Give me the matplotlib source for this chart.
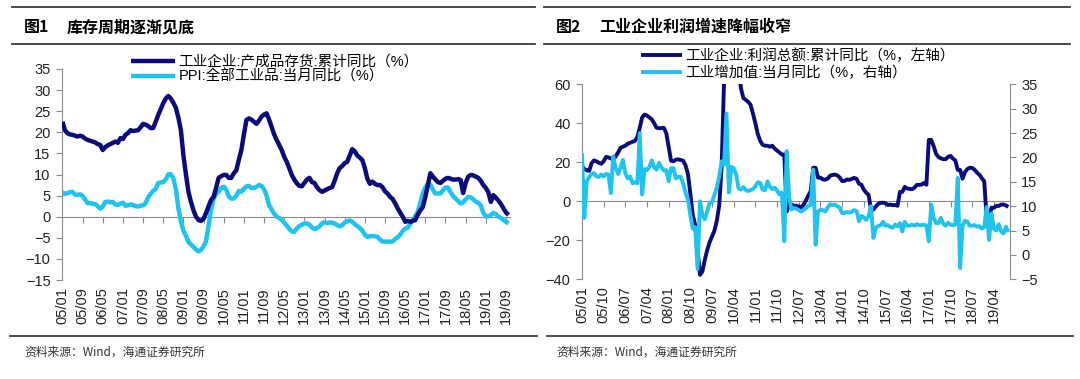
import matplotlib
matplotlib.use("Agg")
import matplotlib.pyplot as plt
import numpy as np

plt.rcParams['font.family'] = ['Liberation Sans', 'Noto Sans CJK SC']

# ---- data (monthly, 2005/01 - 2019/10) ----
# fig 1: finished goods inventory, cumulative YoY (%)
inventory = [
    22.5, 20.5, 19.8, 19.5, 19.4, 19.2, 19.0, 19.2, 19.0, 18.5, 18.2, 18.0,
    17.8, 17.6, 17.2, 17.0, 15.8, 16.5, 16.9, 17.2, 17.5, 17.8, 17.5, 18.6,
    18.4, 19.4, 19.8, 20.5, 20.3, 20.4, 20.5, 21.2, 22.0, 21.8, 21.5, 21.0,
    21.0, 22.5, 24.1, 25.5, 26.9, 28.0, 28.6, 28.0, 27.0, 25.8, 23.5, 20.5,
    14.5, 10.0, 5.9, 3.5, 1.5, 0.0, -0.8, -1.0, -0.5, 0.9, 2.5, 4.0,
    4.7, 7.0, 9.2, 9.6, 9.9, 9.9, 9.2, 9.2, 10.3, 11.0, 13.5, 15.8,
    19.5, 22.9, 23.3, 23.0, 22.5, 22.0, 22.8, 23.7, 24.2, 24.5, 23.0, 21.3,
    19.5, 18.2, 17.0, 15.8, 14.2, 13.0, 11.5, 9.9, 8.8, 7.9, 7.3, 7.2,
    8.0, 8.8, 9.2, 8.2, 8.0, 7.0, 6.3, 5.9, 6.2, 6.5, 6.8, 7.0,
    8.5, 10.3, 11.5, 12.0, 12.7, 13.0, 14.5, 16.0, 15.5, 14.5, 14.0, 13.4,
    11.5, 9.0, 7.8, 8.3, 7.8, 7.5, 7.5, 7.0, 6.0, 5.5, 4.7, 4.2,
    3.2, 2.0, 1.0, 0.0, -1.2, -1.0, -1.2, -1.0, -0.8, 0.5, 1.5, 2.3,
    4.7, 7.5, 10.3, 9.5, 8.8, 8.2, 8.0, 8.5, 9.0, 9.2, 9.0, 8.8,
    8.8, 8.9, 8.7, 5.6, 8.0, 9.5, 9.9, 9.8, 9.5, 9.2, 8.5, 7.5,
    6.8, 5.8, 3.5, 5.1, 4.5, 3.8, 3.0, 2.0, 1.0, 0.4,
]
# fig 1: PPI all industrial products, YoY (%)
ppi = [
    5.8, 5.4, 5.6, 5.8, 5.9, 5.2, 5.2, 5.3, 4.9, 4.0, 3.2, 3.2,
    3.1, 3.0, 2.5, 1.9, 2.4, 3.5, 3.6, 3.4, 3.5, 2.9, 2.8, 3.1,
    3.3, 2.6, 2.7, 2.9, 2.8, 2.5, 2.4, 2.6, 2.7, 3.2, 4.6, 5.4,
    6.1, 6.6, 8.0, 8.1, 8.2, 8.8, 10.0, 10.1, 9.1, 6.6, 2.0, -1.1,
    -3.3, -4.5, -6.0, -6.6, -7.2, -7.8, -8.2, -7.9, -7.0, -5.8, -2.1, 1.7,
    4.3, 5.4, 5.9, 6.8, 7.1, 6.4, 4.8, 4.3, 4.3, 5.0, 6.1, 5.9,
    6.6, 7.2, 7.3, 6.8, 6.8, 7.1, 7.5, 7.3, 6.5, 5.0, 2.7, 1.7,
    0.7, 0.0, -0.3, -0.7, -1.4, -2.1, -2.9, -3.5, -3.6, -2.8, -2.2, -1.9,
    -1.6, -1.6, -1.9, -2.6, -2.9, -2.7, -2.3, -1.6, -1.3, -1.5, -1.4, -1.4,
    -1.6, -2.0, -2.3, -2.0, -1.4, -1.1, -0.9, -1.2, -1.8, -2.2, -2.7, -3.3,
    -4.3, -4.8, -4.6, -4.6, -4.6, -4.8, -5.4, -5.9, -5.9, -5.9, -5.9, -5.9,
    -5.3, -4.9, -4.3, -3.4, -2.8, -2.6, -1.7, -0.8, 0.1, 1.2, 3.3, 5.5,
    6.9, 7.8, 7.6, 6.4, 5.5, 5.5, 5.5, 6.3, 6.9, 6.9, 5.8, 4.9,
    4.3, 3.7, 3.1, 3.4, 4.1, 4.7, 4.6, 4.1, 3.6, 3.3, 2.7, 0.9,
    0.1, 0.1, 0.4, 0.9, 0.6, 0.0, -0.3, -0.8, -1.2, -1.6,
]
# fig 2: total profits, cumulative YoY (%, left axis)
profit = [
    18.0, 16.5, 16.0, 15.6, 19.5, 21.0, 20.5, 19.8, 19.2, 20.5, 22.8, 22.5,
    22.0, 21.4, 23.0, 25.0, 27.4, 28.0, 28.5, 29.5, 30.0, 30.5, 31.0, 33.0,
    37.7, 43.0, 44.5, 44.0, 43.0, 42.0, 40.0, 37.7, 37.5, 37.5, 37.7, 35.0,
    28.0, 20.8, 20.5, 21.4, 21.5, 21.2, 20.8, 18.5, 14.0, 4.0, -7.0, -12.0,
    -25.0, -37.7, -36.0, -30.0, -25.0, -21.0, -18.0, -15.0, -10.0, -2.0, 18.0, 62.0,
    100.0, 90.0, 80.0, 75.0, 80.0, 70.0, 58.0, 53.0, 52.0, 51.0, 49.5, 45.0,
    40.0, 34.5, 31.0, 29.0, 28.5, 28.5, 28.0, 28.5, 27.0, 26.0, 25.0, 24.0,
    24.0, -5.2, -1.3, -1.6, -2.4, -2.2, -2.7, -3.1, -1.8, 0.5, 3.0, 5.3,
    17.2, 17.2, 12.1, 12.1, 11.2, 11.1, 11.6, 13.1, 13.5, 13.7, 13.3, 12.2,
    10.4, 10.4, 11.2, 11.0, 11.5, 12.0, 11.5, 9.0, 8.5, 6.0, 4.4, 3.3,
    -4.2, -4.2, -2.7, -1.3, -0.8, -0.7, -1.0, -1.9, -1.7, -2.0, -1.9, -2.3,
    4.8, 4.8, 7.4, 6.5, 6.4, 6.2, 6.9, 8.4, 8.4, 8.6, 9.4, 8.5,
    31.5, 31.5, 28.3, 24.4, 22.7, 22.0, 21.6, 21.6, 22.8, 23.3, 21.9, 21.0,
    16.1, 16.1, 11.6, 15.0, 16.5, 17.2, 17.1, 16.2, 14.7, 13.6, 11.8, 10.3,
    -8.5, -8.5, -3.3, -3.4, -2.3, -2.4, -1.7, -1.7, -2.1, -2.9,
]
# fig 2: industrial value added, monthly YoY (%, right axis)
iva = [
    20.9, 7.6, 15.1, 16.0, 16.6, 16.8, 16.1, 16.0, 16.5, 16.1, 16.6, 16.5,
    12.7, 20.2, 17.8, 16.6, 17.9, 19.5, 16.7, 15.7, 16.1, 14.7, 14.9, 14.7,
    25.0, 12.4, 17.6, 17.4, 18.1, 19.4, 18.0, 17.5, 18.9, 17.9, 17.3, 17.4,
    15.1, 17.8, 17.8, 15.7, 16.0, 16.0, 14.7, 12.8, 11.4, 8.2, 5.4, 5.7,
    -2.9, 11.0, 8.3, 7.3, 8.9, 10.7, 10.8, 12.3, 13.9, 16.1, 19.2, 18.5,
    29.0, 12.8, 18.1, 17.8, 16.5, 13.7, 13.4, 13.9, 13.3, 13.1, 13.3, 13.5,
    14.1, 14.9, 14.8, 13.4, 13.3, 15.1, 14.0, 13.5, 13.8, 13.2, 12.4, 12.8,
    2.8, 21.3, 11.9, 9.3, 9.6, 9.5, 9.2, 8.9, 9.2, 9.6, 10.1, 10.3,
    17.5, 2.1, 8.9, 9.3, 9.2, 8.9, 9.7, 10.4, 10.2, 10.3, 10.0, 9.7,
    8.6, 8.6, 8.8, 8.7, 8.8, 9.2, 9.0, 6.9, 8.0, 7.7, 7.2, 7.9,
    10.0, 3.5, 5.6, 5.9, 6.1, 6.8, 6.0, 6.1, 5.7, 5.6, 6.2, 5.9,
    6.5, 4.8, 6.8, 6.0, 6.0, 6.2, 6.0, 6.3, 6.1, 6.1, 6.2, 6.0,
    2.8, 10.3, 7.6, 6.5, 6.5, 7.6, 6.4, 6.0, 6.6, 6.2, 6.1, 6.2,
    15.8, -2.7, 6.0, 7.0, 6.8, 6.0, 6.0, 6.1, 5.8, 5.9, 5.4, 5.7,
    9.8, 3.1, 8.5, 5.4, 5.0, 6.3, 4.8, 4.4, 5.8, 4.7,
]

ticks1 = ['05/01', '05/09', '06/05', '07/01', '07/09', '08/05', '09/01', '09/09',
          '10/05', '11/01', '11/09', '12/05', '13/01', '13/09', '14/05', '15/01',
          '15/09', '16/05', '17/01', '17/09', '18/05', '19/01', '19/09']
ticks2 = ['05/01', '05/10', '06/07', '07/04', '08/01', '08/10', '09/07', '10/04',
          '11/01', '11/10', '12/07', '13/04', '14/01', '14/10', '15/07', '16/04',
          '17/01', '17/10', '18/07', '19/04']

DARK = '#0b0b7c'
LIGHT = '#1ec3f0'
GRAY = '#8c8c8c'
CJK = ['Noto Sans CJK SC', 'DejaVu Sans']
LAT = ['Liberation Sans', 'Noto Sans CJK SC']

W, H = 1080, 379
fig = plt.figure(figsize=(10.8, 3.79), dpi=100)


def fx(px):
    return px / W


def fy(py):
    return 1 - py / H


def frame(x0, x1, x0b, x1b, num, title):
    for yy, a, b in [(7, x0, x1), (44, x0, x1), (336, x0b, x1b)]:
        fig.add_artist(plt.Line2D([fx(a), fx(b)], [fy(yy), fy(yy)], color='#3c3c3c', lw=1.3))
    fig.text(fx(x0 + 12), fy(27), num, fontsize=11.5, fontweight='bold', family=CJK, va='center')
    fig.text(fx(x0 + 55), fy(27), title, fontsize=11.5, fontweight='bold', family=CJK, va='center')
    fig.text(fx(x0 + 12), fy(352), '资料来源：Wind，海通证券研究所', fontsize=8.5, family=CJK,
             color='#333333', va='center')


def style_axis(ax, zero_frac, nticks, step, labels):
    for s in ['top', 'right', 'bottom']:
        ax.spines[s].set_visible(False)
    ax.spines['left'].set_color(GRAY)
    ax.tick_params(axis='y', colors=GRAY, labelcolor='#222222', labelsize=10.5, length=4, pad=4)
    pos = np.arange(nticks) * step
    ax.set_xticks(pos)
    ax.set_xticklabels(labels, rotation=90, fontsize=10.5, color='#222222')
    ax.tick_params(axis='x', length=0, pad=5)
    sec = ax.secondary_xaxis(zero_frac)
    sec.set_xticks(pos)
    sec.tick_params(axis='x', colors=GRAY, length=4, labelbottom=False, direction='out')
    sec.spines['bottom'].set_color(GRAY)
    for lab in ax.get_yticklabels() + ax.get_xticklabels():
        lab.set_family(LAT)


# ---- figure 1 ----
frame(12, 535, 10, 537, '图1', '库存周期逐渐见底')
ax1 = fig.add_axes([fx(61.7), fy(280), fx(510 - 61.7), fy(69) - fy(280)])
m1 = np.arange(len(inventory))
ax1.plot(m1, inventory, color=DARK, lw=3.2, solid_capstyle='butt', zorder=3,
         label='工业企业:产成品存货:累计同比（%）')
ax1.plot(m1, ppi, color=LIGHT, lw=3.2, solid_capstyle='butt', zorder=2,
         label='PPI:全部工业品:当月同比（%）')
ax1.set_ylim(-15, 35)
ax1.set_yticks(np.arange(-15, 36, 5))
ax1.set_xlim(-0.3, 177.6)
style_axis(ax1, 0.3, len(ticks1), 8, ticks1)
ax1.legend(loc='upper left', bbox_to_anchor=(fx(131), fy(55)), bbox_transform=fig.transFigure,
           frameon=False, prop={'family': LAT, 'size': 10.5}, handlelength=3.0,
           handletextpad=0.25, labelspacing=0.05, borderpad=0, borderaxespad=0)

# ---- figure 2 ----
frame(544, 1070, 547, 1073, '图2', '工业企业利润增速降幅收窄')
ax2 = fig.add_axes([fx(581.7), fy(279.3), fx(1010 - 581.7), fy(84.3) - fy(279.3)])
m2 = np.arange(len(profit))
ax3 = ax2.twinx()
l2, = ax2.plot(m2, profit, color=DARK, lw=2.8, solid_capstyle='butt',
               label='工业企业:利润总额:累计同比（%，左轴）')
l3, = ax3.plot(m2, iva, color=LIGHT, lw=2.8, solid_capstyle='butt',
               label='工业增加值:当月同比（%，右轴）')
ax2.set_ylim(-40, 60)
ax2.set_yticks(np.arange(-40, 61, 20))
ax3.set_ylim(-5, 35)
ax3.set_yticks(np.arange(-5, 36, 5))
ax2.set_xlim(-0.1, 177.7)
style_axis(ax2, 0.4, len(ticks2), 9, ticks2)
for s in ['top', 'left', 'bottom']:
    ax3.spines[s].set_visible(False)
ax3.spines['right'].set_color(GRAY)
ax3.tick_params(axis='y', colors=GRAY, labelcolor='#222222', labelsize=10.5, length=4, pad=4)
for lab in ax3.get_yticklabels():
    lab.set_family(LAT)
ax3.legend([l2, l3], [l2.get_label(), l3.get_label()], loc='upper left',
           bbox_to_anchor=(fx(641), fy(48)), bbox_transform=fig.transFigure,
           frameon=False, prop={'family': LAT, 'size': 10.5}, handlelength=2.8,
           handletextpad=0.25, labelspacing=0.2, borderpad=0, borderaxespad=0)

fig.savefig('out.png', dpi=100)
